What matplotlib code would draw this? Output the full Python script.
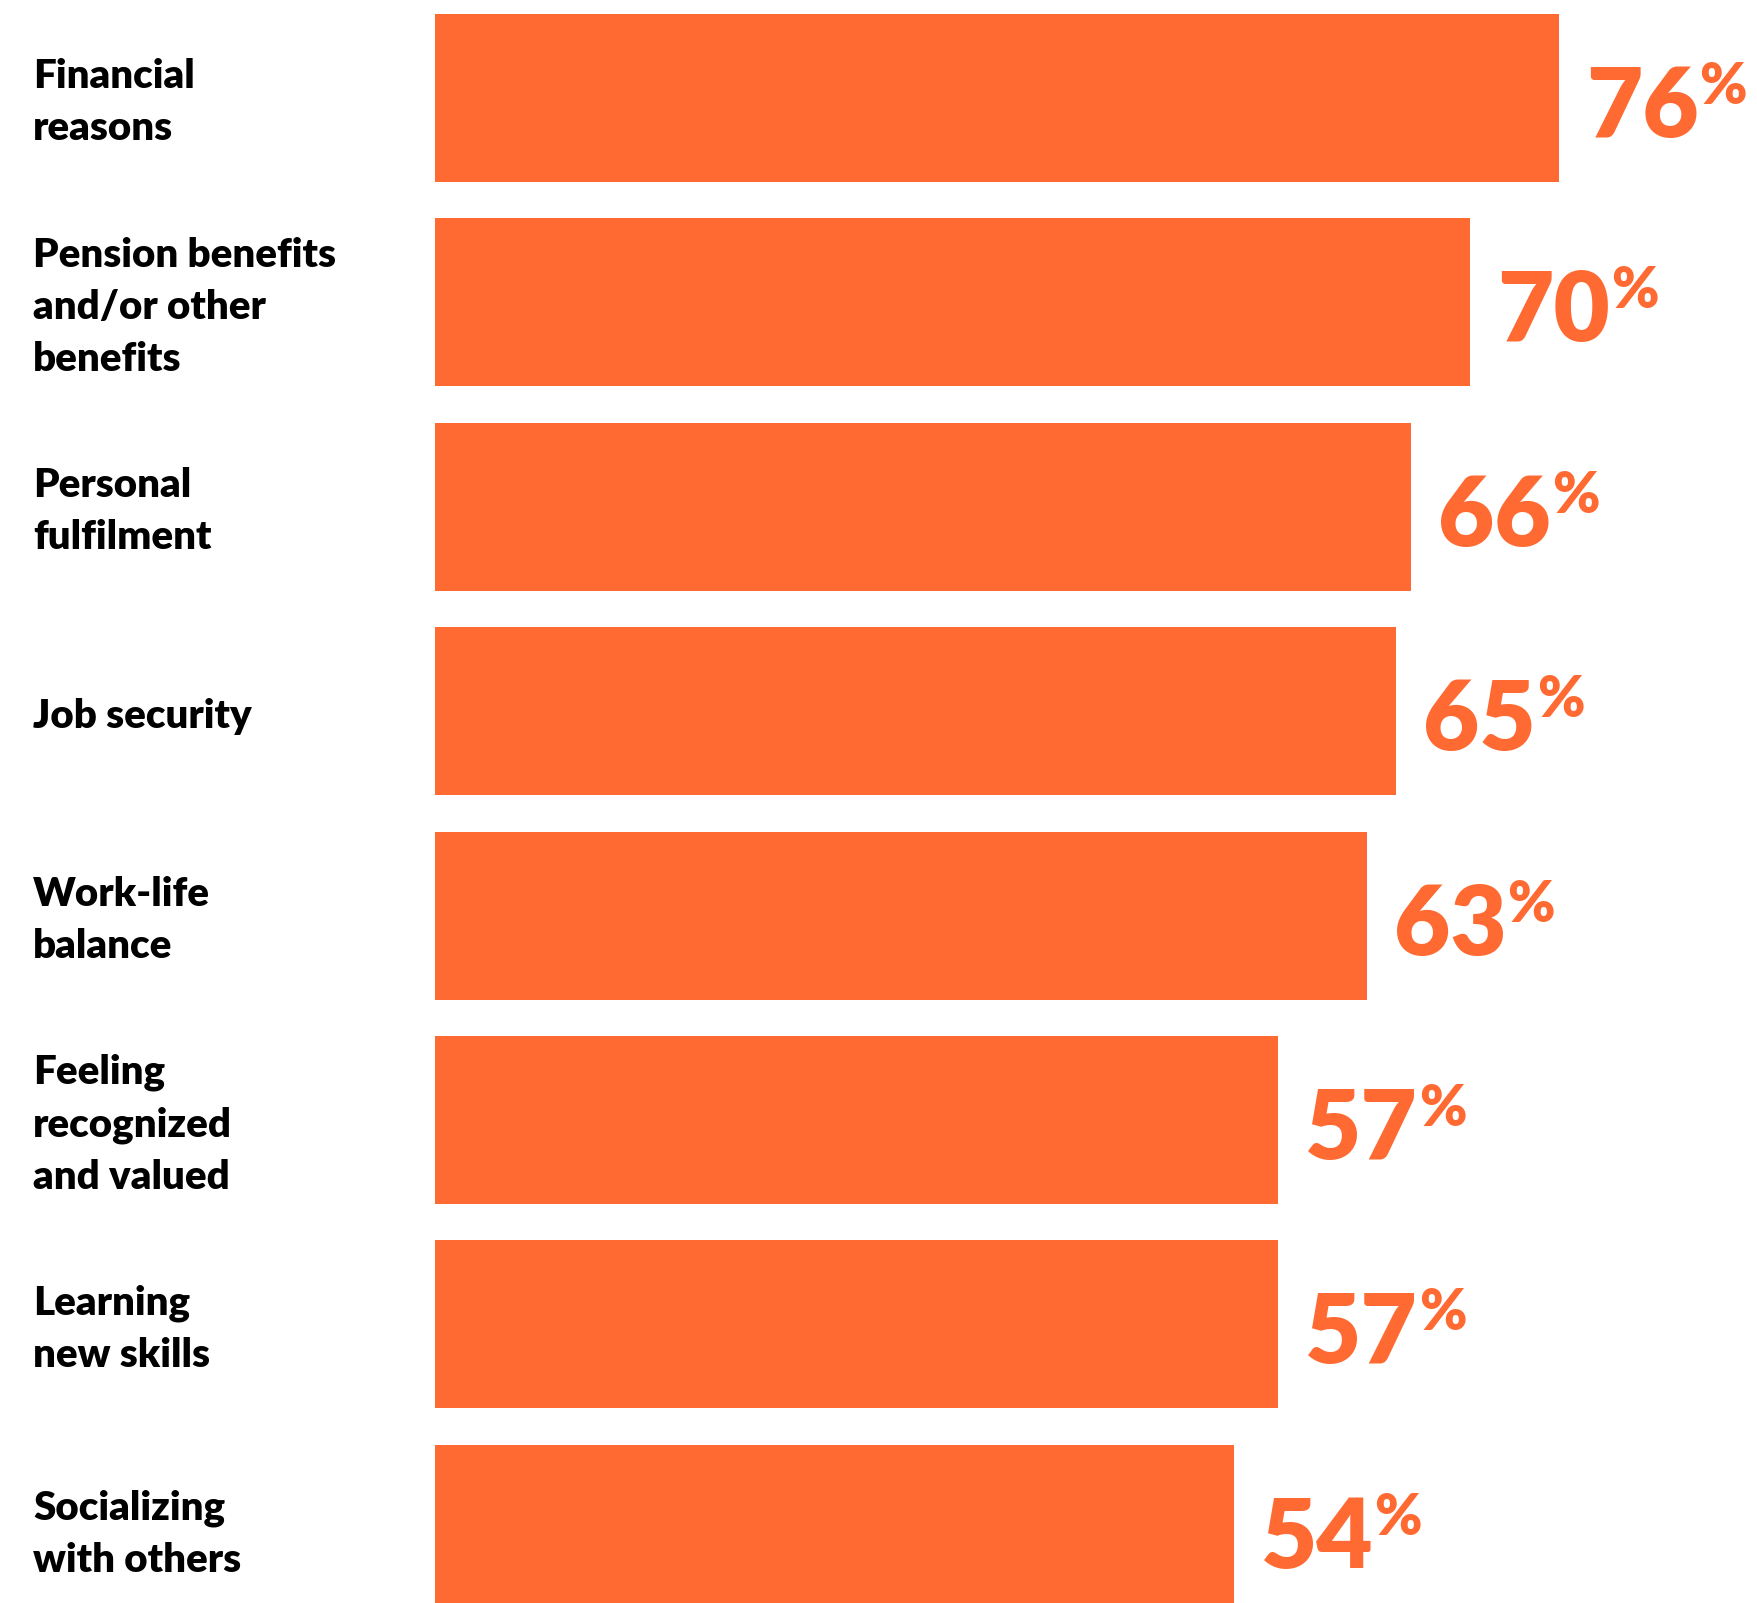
# horizontal bar chart of reasons for working, with big percent labels
import matplotlib.pyplot as plt
import matplotlib.transforms as transforms
import numpy as np

# data
reasons = ['Financial\nreasons',
           'Pension benefits\nand/or other\nbenefits',
           'Personal\nfulfilment',
           'Job security',
           'Work-life\nbalance',
           'Feeling\nrecognized\nand valued',
           'Learning\nnew skills',
           'Socializing\nwith others']
percents = [76, 70, 66, 65, 63, 57, 57, 54]

orange = '#FF6A33'
plt.rcParams['font.family'] = ['Lato', 'DejaVu Sans']

# create plot, axes span the right part of the figure
fig = plt.figure(figsize=(17.57, 16.03), dpi=100)
ax = fig.add_axes([435 / 1757, 0, 1 - 435 / 1757, 1])

index = np.arange(len(reasons))
ax.barh(index, percents, height=0.822, color=orange)

ax.set_xlim(0, 89.4)
ax.set_ylim(7.363, -0.479)
ax.axis('off')

# category labels at the far left of the figure
label_trans = transforms.blended_transform_factory(fig.transFigure, ax.transData)
for i, name in enumerate(reasons):
    ax.annotate(name, xy=(33 / 1757, i), xycoords=label_trans, xytext=(0, -5),
                textcoords='offset pixels', ha='left', va='center',
                fontsize=29, fontweight='heavy', color='black', linespacing=1.5)

# value labels: big digits plus a raised smaller percent sign
for i, value in enumerate(percents):
    num = ax.annotate(str(value), xy=(value, i), xytext=(27, -39),
                      textcoords='offset pixels', ha='left', va='baseline',
                      fontsize=70, fontweight='heavy', color=orange)
    ax.annotate('%', xy=(1.0, i), xycoords=(num, 'data'), xytext=(1, -6),
                textcoords='offset pixels', ha='left', va='baseline',
                fontsize=41, fontweight='heavy', color=orange)

plt.savefig('out.png', dpi=100)
